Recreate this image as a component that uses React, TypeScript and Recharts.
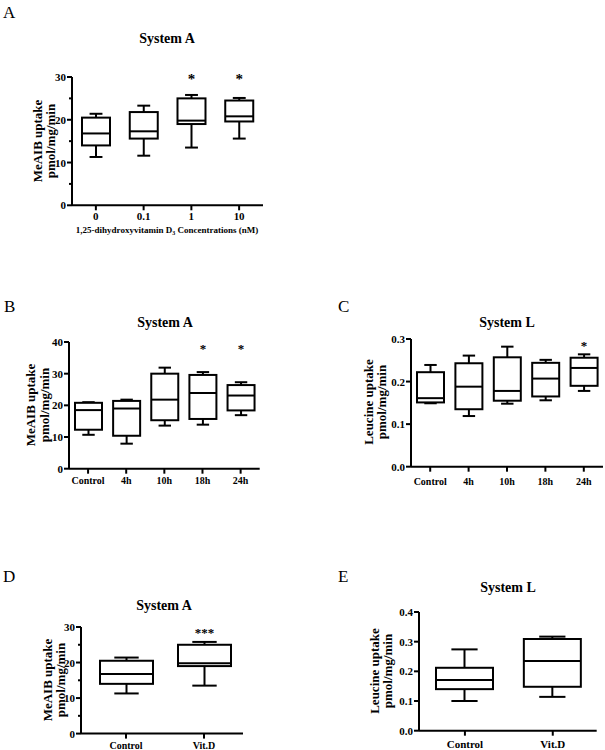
import React from "react";
import { BarChart, Bar, XAxis, YAxis } from "recharts";

const FONT = '"Liberation Serif", "Times New Roman", serif';

// stats per category: [min, q1, median, q3, max]
const aCats = ["0", "0.1", "1", "10"];
const aStats = [
  [11.3, 14.0, 16.8, 20.5, 21.4],
  [11.6, 15.6, 17.3, 21.8, 23.3],
  [13.5, 19.0, 19.8, 25.0, 25.8],
  [15.6, 19.6, 20.8, 24.5, 25.1],
];
const aStars = ["", "", "*", "*"];
const aTicks = [0, 5, 10, 15, 20, 25, 30];

const bCats = ["Control", "4h", "10h", "18h", "24h"];
const bStats = [
  [10.7, 12.3, 18.5, 20.8, 21.0],
  [7.9, 10.4, 19.0, 21.4, 21.8],
  [13.6, 15.3, 21.8, 30.0, 31.9],
  [13.9, 15.7, 23.9, 29.6, 30.5],
  [16.9, 18.4, 23.1, 26.4, 27.3],
];
const bStars = ["", "", "", "*", "*"];
const bTicks = [0, 10, 20, 30, 40];

const cCats = ["Control", "4h", "10h", "18h", "24h"];
const cStats = [
  [0.149, 0.151, 0.161, 0.222, 0.239],
  [0.119, 0.135, 0.188, 0.243, 0.261],
  [0.148, 0.155, 0.178, 0.257, 0.282],
  [0.156, 0.165, 0.207, 0.244, 0.251],
  [0.178, 0.19, 0.232, 0.256, 0.264],
];
const cStars = ["", "", "", "", "*"];
const cTicks = [0, 0.1, 0.2, 0.3];

const dCats = ["Control", "Vit.D"];
const dStats = [
  [11.3, 14.0, 16.8, 20.5, 21.4],
  [13.5, 19.0, 19.8, 25.0, 25.8],
];
const dStars = ["", "***"];
const dTicks = [0, 5, 10, 15, 20, 25, 30];

const eCats = ["Control", "Vit.D"];
const eStats = [
  [0.1, 0.14, 0.171, 0.212, 0.274],
  [0.114, 0.148, 0.235, 0.309, 0.317],
];
const eStars = ["", ""];
const eTicks = [0, 0.1, 0.2, 0.3, 0.4];

function toRows(cats: string[], stats: number[][], stars: string[]) {
  return cats.map((name, i) => ({
    name,
    min: stats[i][0],
    q1: stats[i][1],
    med: stats[i][2],
    q3: stats[i][3],
    max: stats[i][4],
    sig: stars[i],
  }));
}

function makeBoxShape(starLevel: number, starSize: number) {
  return (props: any) => {
    const { x, y, width, height, payload } = props;
    const top = Math.min(y, y + height);
    const bot = Math.max(y, y + height);
    const { min, q1, med, q3, max, sig } = payload;
    const py = (v: number) => bot - ((bot - top) * (v - min)) / (max - min);
    const cx = x + width / 2;
    const cap = width * 0.23;
    return (
      <g stroke="#000" strokeWidth={2} fill="none">
        <line x1={cx} x2={cx} y1={py(max)} y2={py(q3)} />
        <line x1={cx - cap} x2={cx + cap} y1={py(max)} y2={py(max)} />
        <line x1={cx} x2={cx} y1={py(q1)} y2={py(min)} />
        <line x1={cx - cap} x2={cx + cap} y1={py(min)} y2={py(min)} />
        <rect x={x} y={py(q3)} width={width} height={py(q1) - py(q3)} fill="#fff" />
        <line x1={x} x2={x + width} y1={py(med)} y2={py(med)} />
        {sig ? (
          <text
            x={cx}
            y={py(starLevel) + starSize * 0.55}
            textAnchor="middle"
            stroke="none"
            fill="#000"
            fontFamily={FONT}
            fontWeight="bold"
            fontSize={starSize}
          >
            {sig}
          </text>
        ) : null}
      </g>
    );
  };
}

function makeYTick(major: number, decimals: number) {
  return (props: any) => {
    const { x, y, payload } = props;
    const v = payload.value;
    const isMajor = Math.abs(Math.round(v / major) * major - v) < 1e-9;
    return (
      <g>
        <line x1={x} x2={x - (isMajor ? 5 : 3)} y1={y} y2={y} stroke="#000" strokeWidth={2} />
        {isMajor && (
          <text
            x={x - 6}
            y={y + 4}
            textAnchor="end"
            fontFamily={FONT}
            fontWeight="bold"
            fontSize={11}
            fill="#000"
          >
            {v.toFixed(decimals)}
          </text>
        )}
      </g>
    );
  };
}

function makeXTick(dy: number, size: number) {
  return (props: any) => {
    const { x, y, payload } = props;
    return (
      <g>
        <line x1={x} x2={x} y1={y} y2={y + 5} stroke="#000" strokeWidth={2} />
        <text
          x={x}
          y={y + dy}
          textAnchor="middle"
          fontFamily={FONT}
          fontWeight="bold"
          fontSize={size}
          fill="#000"
        >
          {payload.value}
        </text>
      </g>
    );
  };
}

interface PanelProps {
  rows: any[];
  ticks: number[];
  major: number;
  decimals: number;
  left: number;
  right: number;
  top: number;
  bottom: number;
  padLeft?: number;
  barSize: number;
  labelDy: number;
  labelSize: number;
  starLevel: number;
  starSize: number;
}

function BoxPanel(p: PanelProps) {
  const YW = 40;
  const MT = 12;
  const XH = 30;
  const MR = 2;
  const w = YW + (p.right - p.left) + MR;
  const h = MT + (p.bottom - p.top) + XH;
  const axisLine = { stroke: "#000", strokeWidth: 2 };
  return (
    <div style={{ position: "absolute", left: p.left - YW, top: p.top - MT }}>
      <BarChart width={w} height={h} data={p.rows} margin={{ top: MT, right: MR, left: 0, bottom: 0 }}>
        <XAxis
          dataKey="name"
          height={XH}
          axisLine={axisLine}
          tickLine={false}
          tickSize={0}
          tickMargin={0}
          interval={0}
          padding={{ left: p.padLeft || 0, right: 0 }}
          tick={makeXTick(p.labelDy, p.labelSize)}
        />
        <YAxis
          width={YW}
          domain={[p.ticks[0], p.ticks[p.ticks.length - 1]]}
          ticks={p.ticks}
          interval={0}
          axisLine={axisLine}
          tickLine={false}
          tickSize={0}
          tickMargin={0}
          tick={makeYTick(p.major, p.decimals)}
        />
        <Bar
          dataKey={(d: any) => [d.min, d.max]}
          barSize={p.barSize}
          isAnimationActive={false}
          shape={makeBoxShape(p.starLevel, p.starSize)}
        />
      </BarChart>
    </div>
  );
}

function YLabel({ cx, cy, lines }: { cx: number; cy: number; lines: string[] }) {
  return (
    <g transform={`translate(${cx},${cy}) rotate(-90)`}>
      <text textAnchor="middle" fontFamily={FONT} fontWeight="bold" fontSize={13} fill="#000">
        <tspan x={0} y={0}>{lines[0]}</tspan>
        <tspan x={0} y={13.5}>{lines[1]}</tspan>
      </text>
    </g>
  );
}

export default function App() {
  const letter = { fontFamily: FONT, fontSize: 17, fill: "#000" };
  const title = { fontFamily: FONT, fontSize: 14, fontWeight: "bold" as const, fill: "#000", textAnchor: "middle" as const };
  return (
    <div style={{ position: "absolute", left: 0, top: 0, width: 605, height: 750, background: "#fff", overflow: "hidden" }}>
      <BoxPanel
        rows={toRows(aCats, aStats, aStars)}
        ticks={aTicks}
        major={10}
        decimals={0}
        left={72}
        right={263}
        top={76.7}
        bottom={205}
        barSize={28}
        labelDy={15}
        labelSize={11}
        starLevel={30.2}
        starSize={15}
      />
      <BoxPanel
        rows={toRows(bCats, bStats, bStars)}
        ticks={bTicks}
        major={10}
        decimals={0}
        left={69.3}
        right={260}
        top={342.3}
        bottom={469}
        barSize={27}
        labelDy={15.5}
        labelSize={10}
        starLevel={38.7}
        starSize={13}
      />
      <BoxPanel
        rows={toRows(cCats, cStats, cStars)}
        ticks={cTicks}
        major={0.1}
        decimals={1}
        left={411}
        right={603}
        top={339}
        bottom={466.7}
        barSize={27}
        labelDy={18}
        labelSize={10}
        starLevel={0.292}
        starSize={13}
      />
      <BoxPanel
        rows={toRows(dCats, dStats, dStars)}
        ticks={dTicks}
        major={10}
        decimals={0}
        left={80.7}
        right={242.7}
        top={626.7}
        bottom={733.3}
        padLeft={6}
        barSize={53}
        labelDy={15.5}
        labelSize={10}
        starLevel={29.1}
        starSize={13}
      />
      <BoxPanel
        rows={toRows(eCats, eStats, eStars)}
        ticks={eTicks}
        major={0.1}
        decimals={1}
        left={419.3}
        right={597}
        top={612.3}
        bottom={731}
        padLeft={2}
        barSize={57}
        labelDy={17}
        labelSize={11}
        starLevel={0.45}
        starSize={13}
      />
      <svg width={605} height={750} style={{ position: "absolute", left: 0, top: 0, pointerEvents: "none" }}>
        <text x={3} y={18} {...letter}>A</text>
        <text x={4} y={312} {...letter}>B</text>
        <text x={338} y={312} {...letter}>C</text>
        <text x={3} y={582} {...letter}>D</text>
        <text x={338} y={582} {...letter}>E</text>

        <text x={167} y={43} {...title}>System A</text>
        <text x={165} y={327} {...title}>System A</text>
        <text x={507} y={327} {...title}>System L</text>
        <text x={164} y={610} {...title}>System A</text>
        <text x={508} y={592} {...title}>System L</text>

        <YLabel cx={41.5} cy={141} lines={["MeAIB uptake", "pmol/mg/min"]} />
        <YLabel cx={35} cy={405} lines={["MeAIB uptake", "pmol/mg/min"]} />
        <YLabel cx={372.5} cy={402} lines={["Leucine uptake", "pmol/mg/min"]} />
        <YLabel cx={51.5} cy={680} lines={["MeAIB uptake", "pmol/mg/min"]} />
        <YLabel cx={378.5} cy={671} lines={["Leucine uptake", "pmol/mg/min"]} />

        <text x={167} y={233} textAnchor="middle" fontFamily={FONT} fontWeight="bold" fontSize={9} fill="#000">
          1,25-dihydroxyvitamin D<tspan dy={2} fontSize={6}>3</tspan>
          <tspan dy={-2}> Concentrations (nM)</tspan>
        </text>
      </svg>
    </div>
  );
}
